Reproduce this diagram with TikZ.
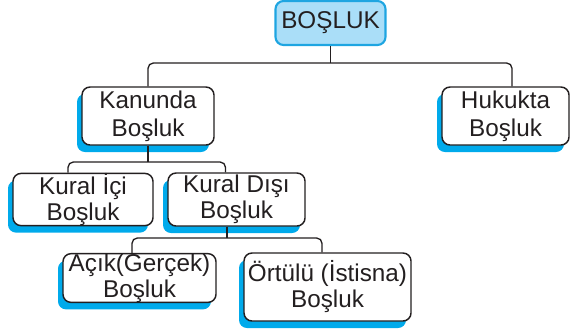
\documentclass[tikz,border=0pt]{standalone}
\usepackage{fontspec}
\setmainfont{Liberation Sans}
\usetikzlibrary{shadows,calc}
\definecolor{shadowblue}{RGB}{0,170,235}
\definecolor{topfill}{RGB}{170,222,248}
\definecolor{topdraw}{RGB}{30,165,225}
\definecolor{ink}{RGB}{35,31,32}
\tikzset{
  box/.style={draw=ink, line width=1.1pt, rounded corners=6pt, fill=white, text=ink,
    align=center, inner sep=0pt,
    font=\fontsize{18.2}{19.5}\selectfont,
    drop shadow={shadow xshift=-3.75pt, shadow yshift=-5.25pt, fill=shadowblue, opacity=1}},
  topbox/.style={draw=topdraw, line width=1.6pt, rounded corners=6pt, fill=topfill, text=ink,
    align=center, inner sep=0pt, font=\fontsize{18.2}{19.5}\selectfont},
  conn/.style={draw=ink, line width=1pt, rounded corners=4pt}
}
\begin{document}
\begin{tikzpicture}[x=0.75pt,y=-0.75pt]
\useasboundingbox (0,0) rectangle (570,330);
\coordinate (l1) at (0,63);
\coordinate (l2) at (0,162);
\coordinate (l3) at (0,238);

\node[topbox, minimum width=82.5pt, minimum height=33pt] (bosluk) at (330.5,23) {BOŞLUK};
\node[box, minimum width=99pt, minimum height=43.5pt, font=\fontsize{18.2}{21}\selectfont] (kanunda) at (148,116) {Kanunda\\Boşluk};
\node[box, minimum width=95.25pt, minimum height=43.5pt, font=\fontsize{18.2}{21}\selectfont] (hukukta) at (505.5,116) {Hukukta\\Boşluk};
\node[box, minimum width=105pt, minimum height=38.25pt] (kurali) at (83,199.5) {Kural İçi\\Boşluk};
\node[box, minimum width=102.75pt, minimum height=39.75pt] (kuraldisi) at (236.5,199.5) {Kural Dışı\\Boşluk};
\node[box, minimum width=114.75pt, minimum height=36pt] (acik) at (139.5,278) {Açık(Gerçek)\\Boşluk};
\node[box, minimum width=125.25pt, minimum height=51pt] (ortulu) at (327.5,287) {Örtülü (İstisna)\\Boşluk};

\draw[conn] (bosluk.south) -- (bosluk.south |- l1);
\draw[conn] (kanunda.north) |- (bosluk.south |- l1) -| ([xshift=4.875pt]hukukta.north);

\draw[conn] (kanunda.south) -- (kanunda.south |- l2);
\draw[conn] ([xshift=-11.25pt]kurali.north) |- (kanunda.south |- l2) -| ([xshift=-8.25pt]kuraldisi.north);

\coordinate (stem) at ([xshift=-7.125pt]kuraldisi.south);
\draw[conn] (stem) -- (stem |- l3);
\draw[conn] ([xshift=-5.625pt]acik.north) |- (stem |- l3) -| ([xshift=-4.125pt]ortulu.north);
\end{tikzpicture}
\end{document}
